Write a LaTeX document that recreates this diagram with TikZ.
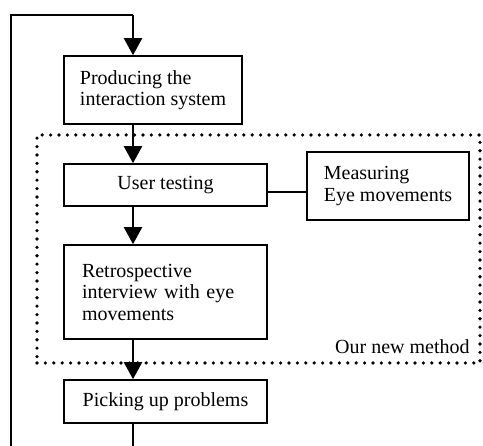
\documentclass[tikz,border=0pt]{standalone}
\usepackage{fontspec}
\setmainfont{Liberation Serif}
\usepackage{tikz}
\usetikzlibrary{arrows.meta}
\tikzstyle{stepbox}=[draw=black, line width=1.6pt, font=\fontsize{20}{21.5}\selectfont, inner ysep=0pt]
\tikzstyle{leftbox}=[stepbox, align=left]
\tikzstyle{dotbox}=[draw=black, line width=3.6pt, line cap=round, dash pattern=on 0pt off 8.4pt, inner sep=0pt]
\tikzstyle{arrow}=[draw=black, line width=2.2pt, -{Triangle[length=17pt, width=18pt]}]
\tikzstyle{link}=[draw=black, line width=2.2pt]

\begin{document}
\begin{tikzpicture}[x=1pt, y=-1pt]
	\useasboundingbox (0,0) rectangle (483,446);
	\begin{scope}
		\node (ourbox) at (258.5,249)[dotbox, minimum width=443pt, minimum height=228pt] {};
		\node (ourlabel) at ([xshift=-12pt, yshift=11pt]ourbox.south east)[anchor=base east, font=\fontsize{20}{21.5}\selectfont, inner sep=0pt] {Our new method};
		\node (prod) at (153,90)[leftbox, minimum width=178pt, minimum height=68pt] {Producing the\\interaction system};
		\node (ut) at (165.5,185)[stepbox, minimum width=203pt, minimum height=42pt] {User testing};
		\node (meas) at (388,186)[leftbox, minimum width=162pt, minimum height=68pt] {Measuring\\Eye movements};
		\node (retro) at (165.5,292)[leftbox, inner xsep=18pt, minimum width=203pt, minimum height=94pt, text width=167pt] {Retrospective\\interview with eye\\movements};
		\node (pick) at (165.5,401.5)[stepbox, minimum width=203pt, minimum height=43pt] {Picking up problems};
		\coordinate (top) at (133,15);
		\coordinate (corner) at (11,15);
		\coordinate (leftend) at (11,446);
		\coordinate (bottom) at (133,446);
	\end{scope}
	\begin{scope}
		\path [link] (leftend) -- (corner) -- (top);
		\path [arrow] (top) -- (prod.north -| top);
		\path [arrow] (prod.south -| top) -- (ut.north -| top);
		\path [arrow] (ut.south -| top) -- (retro.north -| top);
		\path [arrow] (retro.south -| top) -- (pick.north -| top);
		\path [link] (pick.south -| top) -- (bottom);
		\path [link, line width=1.6pt] ([yshift=-7pt]ut.east) -- ([yshift=-7pt]ut.east -| meas.west);
	\end{scope}
\end{tikzpicture}
\end{document}
